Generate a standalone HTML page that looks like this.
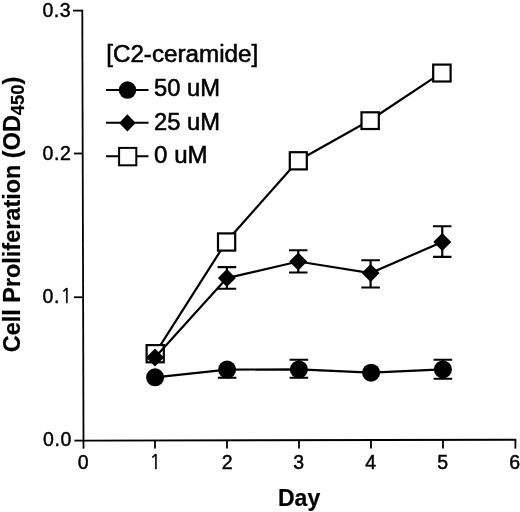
<!DOCTYPE html>
<html>
<head>
<meta charset="utf-8">
<style>
html,body{margin:0;padding:0;background:#fff;}
body{width:520px;height:512px;overflow:hidden;}
svg{display:block;}
text{font-family:"Liberation Sans",Arial,sans-serif;fill:#000;}
.tk{font-size:19.5px;stroke:#000;stroke-width:0.45px;letter-spacing:0.6px;}
.lg{font-size:23.5px;stroke:#000;stroke-width:0.55px;}
.ti{font-size:23px;font-weight:bold;stroke:#000;stroke-width:0.2px;}
</style>
</head>
<body>
<svg width="520" height="512" viewBox="0 0 520 512">
<rect width="520" height="512" fill="#fff"/>
<g stroke="#000" stroke-width="1.8" fill="none" stroke-linecap="butt">
  <!-- y axis -->
  <line x1="82.3" y1="9.8" x2="83.5" y2="441.4"/>
  <line x1="73" y1="10.6" x2="82.3" y2="10.6"/>
  <line x1="74" y1="153.5" x2="82.7" y2="153.5"/>
  <line x1="74" y1="297.25" x2="83" y2="297.25"/>
  <line x1="74.4" y1="440.6" x2="83.5" y2="440.6"/>
  <!-- x axis -->
  <line x1="82.6" y1="440.6" x2="516.3" y2="439.75"/>
  <line x1="83.5" y1="440.6" x2="83.5" y2="448.6"/>
  <line x1="155" y1="440.5" x2="155" y2="448.6"/>
  <line x1="227" y1="440.3" x2="227" y2="448.6"/>
  <line x1="299" y1="440.2" x2="299" y2="448.6"/>
  <line x1="371" y1="440" x2="371" y2="448.6"/>
  <line x1="443" y1="439.9" x2="443" y2="448.6"/>
  <line x1="515.4" y1="439.75" x2="515.4" y2="448.6"/>
</g>
<!-- tick labels -->
<g class="tk" text-anchor="end">
  <text x="71.3" y="16.5">0.3</text>
  <text x="71.5" y="159.7">0.2</text>
  <text x="72.6" y="303">0.<tspan font-family="NanumGothic, sans-serif" font-size="18.8" dx="0.6" dy="0.3">1</tspan></text>
  <text x="72" y="446.4">0.0</text>
</g>
<g class="tk" text-anchor="middle">
  <text x="83.5" y="468.9">0</text>
  <text x="155.5" y="468.9" style="font-family:NanumGothic,sans-serif;font-size:19px">1</text>
  <text x="227.5" y="468.9">2</text>
  <text x="299" y="468.9">3</text>
  <text x="371" y="468.9">4</text>
  <text x="443" y="468.9">5</text>
  <text x="515" y="468.9">6</text>
</g>
<text class="ti" x="299.1" y="506" text-anchor="middle">Day</text>
<text class="ti" transform="translate(20.3,214.5) rotate(-90) scale(1.02,1)" text-anchor="middle">Cell Proliferation (OD<tspan font-size="18" dy="4">450</tspan><tspan dy="-4">)</tspan></text>

<!-- legend -->
<text class="lg" x="106.2" y="62.4" textLength="152" lengthAdjust="spacingAndGlyphs">[C2-ceramide]</text>
<text class="lg" x="154.1" y="96.4" textLength="66" lengthAdjust="spacingAndGlyphs">50 uM</text>
<text class="lg" x="154.1" y="130.3" textLength="66" lengthAdjust="spacingAndGlyphs">25 uM</text>
<text class="lg" x="154.1" y="163" textLength="53.5" lengthAdjust="spacingAndGlyphs">0 uM</text>
<g stroke="#000" stroke-width="2" fill="none">
  <line x1="106" y1="90" x2="148.5" y2="90"/>
  <line x1="106" y1="122.8" x2="148.5" y2="122.8"/>
  <line x1="106" y1="156.25" x2="148.5" y2="156.25"/>
</g>
<circle cx="127.5" cy="90.1" r="8.75" fill="#000"/>
<path d="M127.4 114.3 L135.7 122.9 L127.4 131.5 L119.1 122.9 Z" fill="#000"/>
<rect x="119.1" y="147.9" width="17.2" height="17.4" fill="#fff" stroke="#000" stroke-width="2"/>

<!-- 0 uM series -->
<g stroke="#000" stroke-width="2.2" fill="none" stroke-linejoin="round">
  <polyline points="155.2,353.3 226.4,241.6 298.25,160.5 370,120.25 441.75,72.7"/>
</g>
<g fill="#fff" stroke="#000" stroke-width="2.2">
  <rect x="146.6" y="345.1" width="17.2" height="17.2"/>
  <rect x="218" y="233.4" width="17.2" height="17.2"/>
  <rect x="289.8" y="152.2" width="17" height="17.2"/>
  <rect x="361.5" y="112.3" width="17.3" height="16.7"/>
  <rect x="433.2" y="64.6" width="17.4" height="16.9"/>
</g>

<!-- 25 uM series -->
<g stroke="#000" stroke-width="2.2" fill="none">
  <polyline points="155,357.5 226.9,278.1 298.25,261.5 370.6,273.1 442.25,241.9"/>
  <!-- error bars -->
  <path d="M226.9 267.1V288.75 M217.6 267.1H236.2 M217.6 288.75H236.2"/>
  <path d="M298.25 250.25V272.5 M289 250.25H307.5 M289 272.5H307.5"/>
  <path d="M370.6 260.25V287.5 M361.3 260.25H379.9 M361.3 287.5H379.9"/>
  <path d="M442.25 226.25V256.9 M433 226.25H451.5 M433 256.9H451.5"/>
</g>
<g fill="#000">
  <path d="M155 348.50 L164.00 357.5 L155 366.50 L146.00 357.5 Z"/>
  <path d="M226.9 269.10 L235.90 278.1 L226.9 287.10 L217.90 278.1 Z"/>
  <path d="M298.25 252.50 L307.25 261.5 L298.25 270.50 L289.25 261.5 Z"/>
  <path d="M370.6 264.10 L379.60 273.1 L370.6 282.10 L361.60 273.1 Z"/>
  <path d="M442.25 232.90 L451.25 241.9 L442.25 250.90 L433.25 241.9 Z"/>
</g>

<!-- 50 uM series -->
<g stroke="#000" stroke-width="2.2" fill="none">
  <polyline points="155.1,377.3 227.1,369.6 298.9,369.4 371.1,372.7 442.9,369.4"/>
  <path d="M227.1 361.4V377.75 M217.8 377.75H236.4"/>
  <path d="M298.9 359.75V377.75 M289.6 359.75H308.2 M289.6 377.75H308.2"/>
  <path d="M442.9 359.75V378.75 M433.6 359.75H452.2 M433.6 378.75H452.2"/>
</g>
<g fill="#000">
  <circle cx="155.1" cy="377.3" r="9"/>
  <circle cx="227.1" cy="369.6" r="9"/>
  <circle cx="298.9" cy="369.4" r="9"/>
  <circle cx="371.1" cy="372.7" r="9"/>
  <circle cx="442.9" cy="369.4" r="9"/>
</g>
</svg>
</body>
</html>
